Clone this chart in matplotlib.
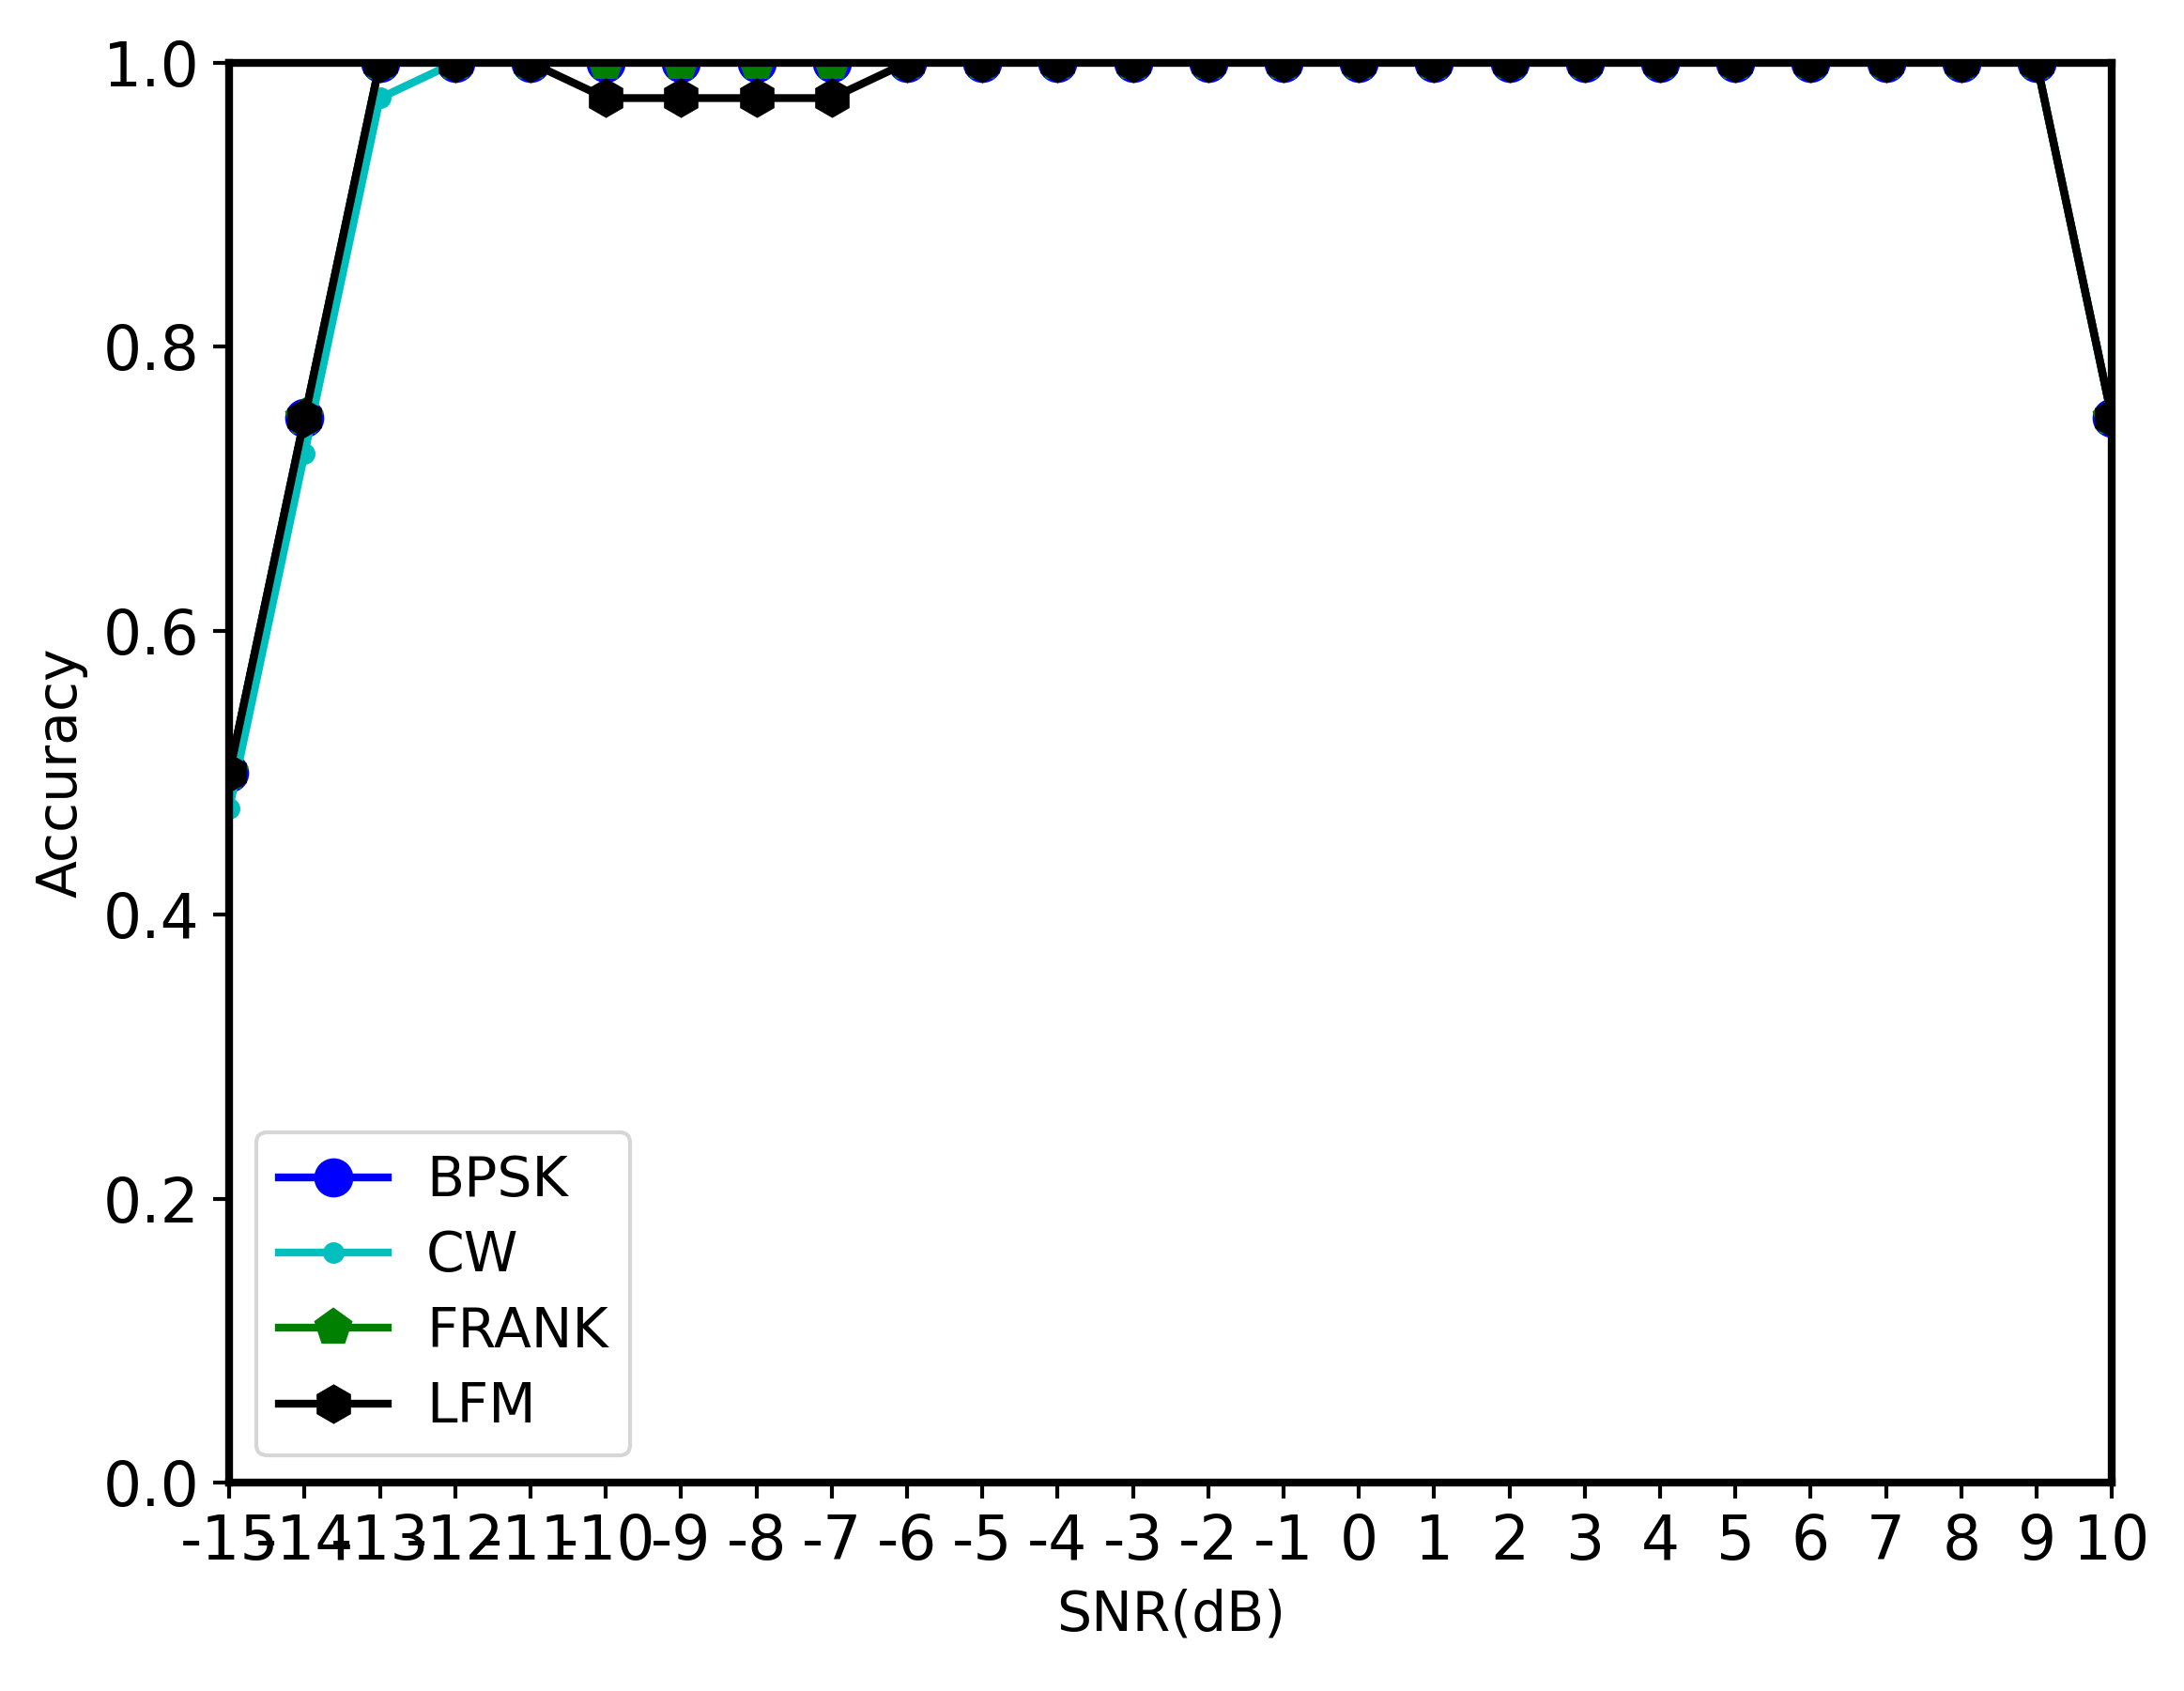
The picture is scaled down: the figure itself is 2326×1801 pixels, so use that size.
import numpy as np
import matplotlib
matplotlib.use('Agg')
import matplotlib.pyplot as plt

plt.rcParams['axes.unicode_minus'] = False

snr = list(range(-15, 11))

bpsk = [0.5, 0.75] + [1.0] * 23 + [0.75]
cw = [0.475, 0.725, 0.975] + [1.0] * 22 + [0.75]
frank = [0.5, 0.75] + [1.0] * 23 + [0.75]
lfm = [0.5, 0.75, 1.0, 1.0, 1.0, 0.975, 0.975, 0.975, 0.975] + [1.0] * 16 + [0.75]

fig = plt.figure(figsize=(2326 / 300, 1801 / 300), dpi=300)
ax = fig.add_axes([0.105, 0.123, 0.862, 0.840])

#the four signal classes
ax.plot(snr, bpsk, color='b', marker='o', markersize=9, linewidth=2, label='BPSK')
ax.plot(snr, cw, color='c', marker='.', markersize=9, linewidth=2, label='CW')
ax.plot(snr, frank, color='g', marker='p', markersize=9, linewidth=2, label='FRANK')
ax.plot(snr, lfm, color='k', marker='h', markersize=9, linewidth=2, label='LFM')

ax.set_xlim(-15, 10)
ax.set_ylim(0, 1.0)
ax.set_xticks(snr)
ax.set_xticklabels([str(s) for s in snr])
ax.set_yticks(np.arange(0, 1.01, 0.2))
ax.tick_params(labelsize=15.5, length=4, width=1)

for sp in ax.spines.values():
  sp.set_linewidth(2)

ax.set_xlabel('SNR(dB)', fontsize=14)
ax.set_ylabel('Accuracy', fontsize=14)

ax.legend(loc='lower left', fontsize=14, labelspacing=0.4, handletextpad=0.7)

plt.savefig('out.png', dpi=300)
